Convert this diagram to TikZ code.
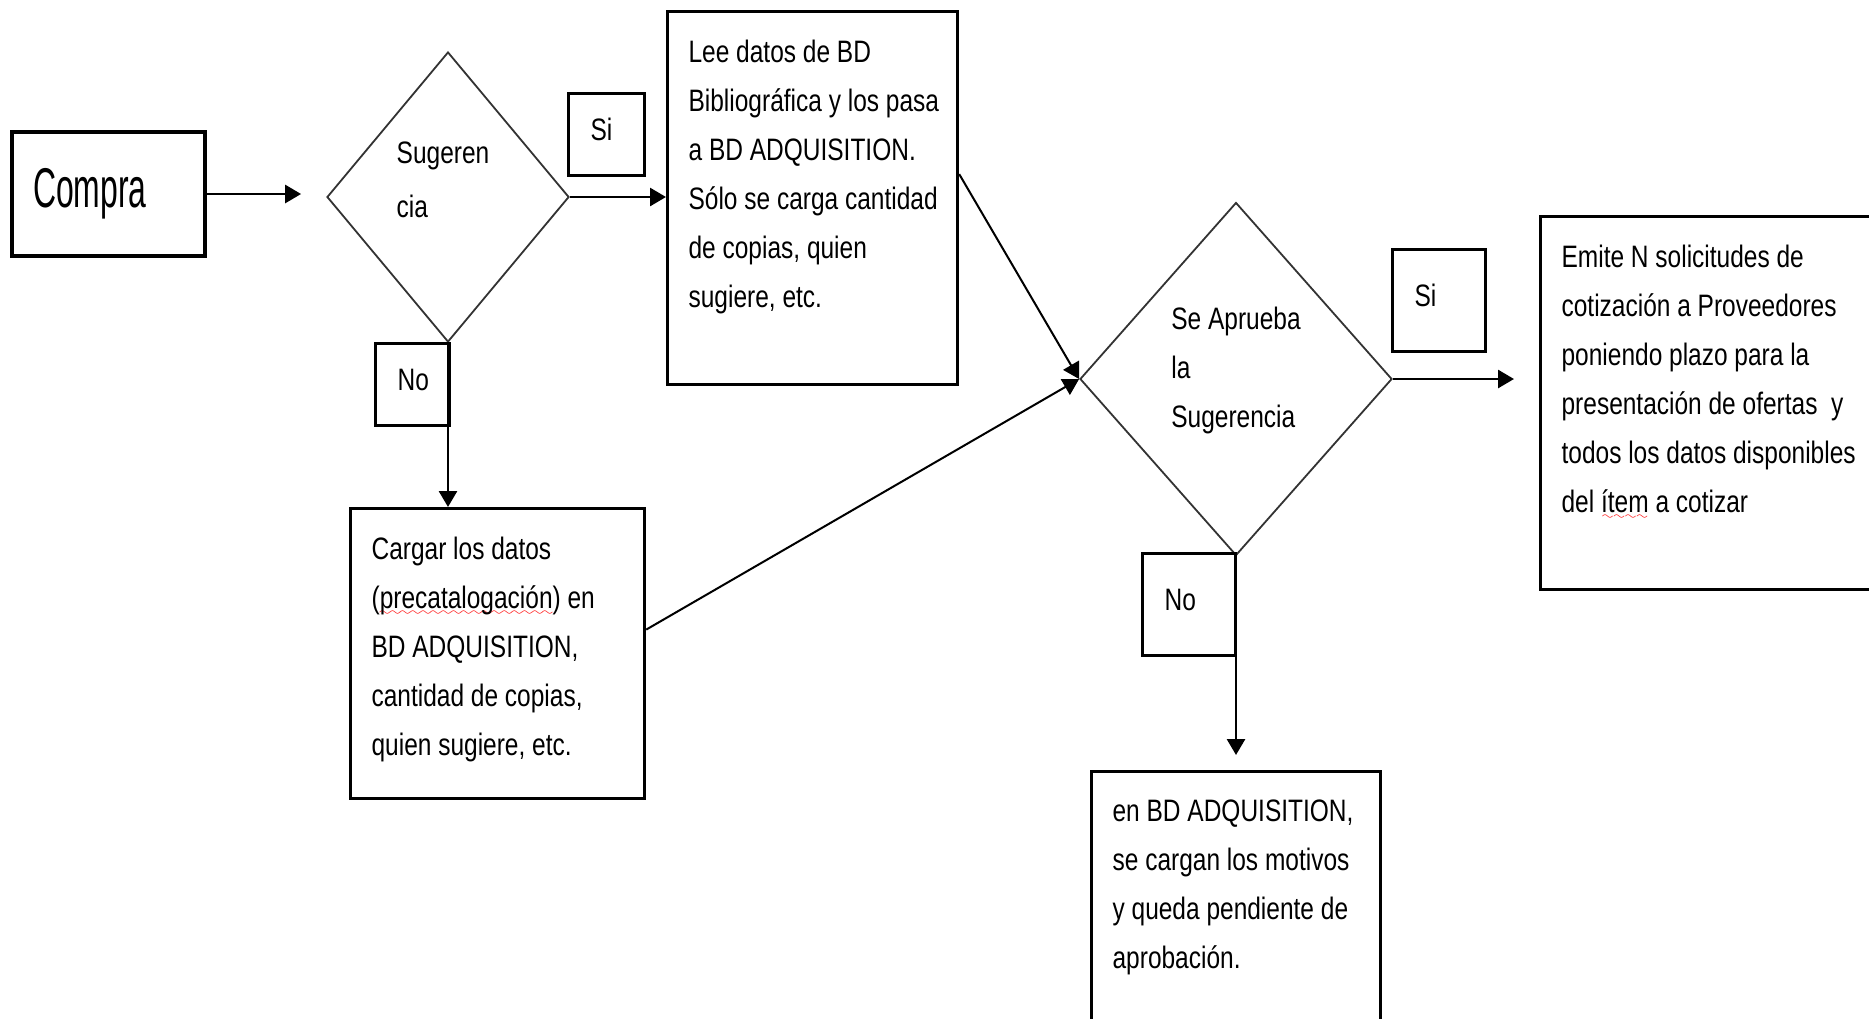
\documentclass[tikz,border=0pt]{standalone}
\usepackage{fontspec}
\setmainfont[FakeStretch=0.79]{Liberation Sans}
\newfontfamily\comprafont[FakeStretch=0.57]{Liberation Sans}
\usepackage{xcolor}
\usepackage{tikz}
\usetikzlibrary{positioning,shapes.geometric,arrows.meta}

% red wavy underline (spell check marks)
\font\ondita=lasy6
\newsavebox{\palabra}
\newcommand{\subraya}[1]{\sbox{\palabra}{#1}\rlap{\raisebox{-3.5pt}{\textcolor{red}{\hbox to \wd\palabra{\xleaders\hbox{\ondita\char58}\hfill}}}}\usebox{\palabra}}
% text of a box, set from the top
\newcommand{\cajatexto}[3]{\parbox[c][#2][t]{#1}{\raggedright\leftskip=10.5pt #3}}
% text of a diamond, lifted a little
\newcommand{\rombotexto}[2]{\raisebox{#1}[\height][\depth]{\begin{tabular}{@{}l@{}}#2\end{tabular}}}

\begin{document}
\begin{tikzpicture}[x=1pt, y=-1pt,
    every node/.style={font=\fontsize{15.5}{24.5}\selectfont},
    inicio/.style={draw, line width=1.6pt, minimum width=96.5pt, minimum height=62pt,
        inner xsep=10.5pt, text width=75.5pt, align=left,
        font=\comprafont\fontsize{28}{30}\selectfont},
    caja/.style={draw, line width=1.6pt, anchor=north west, inner xsep=0pt, inner ysep=14pt},
    etiqueta/.style={draw, line width=1.6pt, anchor=north west, inner xsep=11pt, inner ysep=0pt,
        align=left, text depth=5pt},
    decision/.style={diamond, draw=black!80, line width=0.9pt, inner sep=0pt},
    flecha/.style={line width=1.4pt, -{Triangle[length=8pt,width=9pt]}},
    diagonal/.style={line width=1pt, -{Triangle[length=8pt,width=9pt]}}]

\useasboundingbox (0,0) rectangle (934.5,509);

\node[inicio] (compra) at (54.25,97) {Compra};

\node[decision, minimum width=121pt, minimum height=145pt] (sugerencia) at (224,98.5) {\kern-5pt\rombotexto{8pt}{Sugeren\\[2.5pt]cia}};
\node[etiqueta, text width=16pt, minimum height=41pt] (si_1) at (283.5,46) {Si};
\node[etiqueta, text width=15pt, minimum height=41pt] (no_1) at (187,171) {No};

\node[caja] (lee) at (333,5) {\cajatexto{145pt}{158.5pt}{Lee datos de BD\\
    Bibliográfica y los pasa\\
    a BD ADQUISITION.\\
    Sólo se carga cantidad\\
    de copias, quien\\
    sugiere, etc.}};
\node[caja] (cargar) at (174.5,253.5) {\cajatexto{147pt}{117pt}{Cargar los datos\\
    (\subraya{precatalogación}) en\\
    BD ADQUISITION,\\
    cantidad de copias,\\
    quien sugiere, etc.}};

\node[decision, minimum width=156pt, minimum height=176.5pt] (aprueba) at (618,189.5) {\rombotexto{5pt}{Se Aprueba\\la\\Sugerencia}};
\node[etiqueta, text width=24.5pt, minimum height=51pt] (si_2) at (695.5,124) {Si};
\node[etiqueta, text width=24.5pt, minimum height=51pt] (no_2) at (570.5,276) {No};

\node[caja] (emite) at (769.5,107.5) {\cajatexto{180pt}{158.5pt}{Emite N solicitudes de\\
    cotización a Proveedores\\
    poniendo plazo para la\\
    presentación de ofertas~ y\\
    todos los datos disponibles\\
    del \subraya{ítem} a cotizar}};
\node[caja] (rechazo) at (545,385) {\cajatexto{144.5pt}{112pt}{en BD ADQUISITION,\\
    se cargan los motivos\\
    y queda pendiente de\\
    aprobación.}};

\draw[flecha, shorten >=12.5pt] (compra.east) -- (compra.east -| sugerencia.west);
\draw[flecha] (sugerencia.east) -- (sugerencia.east -| lee.west);
\draw[flecha] (sugerencia.south) -- (sugerencia.south |- cargar.north);
\draw[diagonal] ([yshift=12pt]lee.east) -- (aprueba.west);
\draw[diagonal] ([yshift=12pt]cargar.east) -- (aprueba.west);
\draw[flecha, shorten >=12.5pt] (aprueba.east) -- (aprueba.east -| emite.west);
\draw[flecha, shorten >=7.5pt] (aprueba.south) -- (aprueba.south |- rechazo.north);

\end{tikzpicture}
\end{document}
